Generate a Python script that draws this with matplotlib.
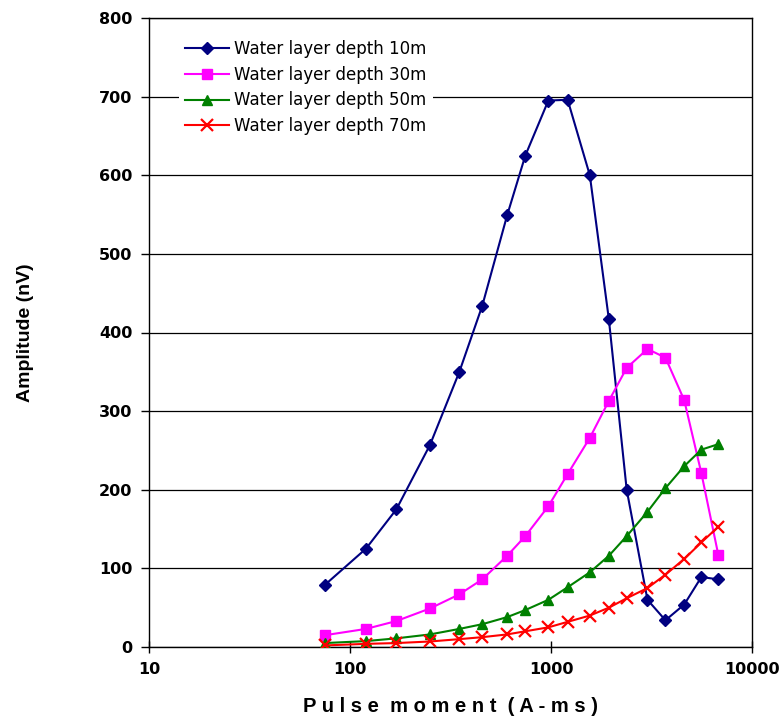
import numpy as np
import matplotlib
matplotlib.use("Agg")
from matplotlib import pyplot as plt

# pulse moments (A-ms) and NMR signal amplitudes (nV)
pulse_moment = [75, 120, 170, 250, 350, 455, 605, 745, 970, 1210,
                1560, 1940, 2380, 3020, 3710, 4600, 5600, 6800]

depth_10m = [79, 125, 175, 257, 350, 434, 549, 625, 695, 696,
             600, 417, 200, 60, 34, 54, 89, 86]
depth_30m = [15, 23, 33, 49, 67, 86, 116, 141, 179, 220,
             266, 313, 355, 379, 368, 314, 221, 117]
depth_50m = [5, 7.5, 11, 16, 23, 29, 38, 47, 60, 76,
             95, 116, 141, 172, 202, 230, 251, 258]
depth_70m = [2, 4, 5, 7, 10, 12.5, 16, 20, 25, 32,
             40, 50, 62, 75, 92, 112, 133, 153]

labels = ["Water layer depth 10m", "Water layer depth 30m",
          "Water layer depth 50m", "Water layer depth 70m"]
colors = ["#000080", "#FF00FF", "#008000", "#FF0000"]
markers = ["D", "s", "^", "x"]
msizes = [6, 7.5, 7.5, 8]

fig = plt.figure(figsize=(7.82, 7.2), dpi=100)
ax = fig.add_axes([149/782, 73/720, 603/782, 629/720])

series = [depth_10m, depth_30m, depth_50m, depth_70m]
for y, lab, c, m, ms in zip(series, labels, colors, markers, msizes):
    ax.plot(pulse_moment, y, color=c, marker=m, markersize=ms, lw=1.5,
            mec=c, mfc=c, mew=1.6 if m == "x" else 1, label=lab, zorder=3)

ax.set_xscale("log")
ax.set_xlim(10, 10000)
ax.set_ylim(0, 800)
ax.set_yticks(np.arange(0, 801, 100))
ax.set_xticks([10, 100, 1000, 10000])
ax.set_xticklabels(["10", "100", "1000", "10000"])
ax.minorticks_off()
ax.yaxis.grid(True, color="black", lw=0.9)
ax.set_axisbelow(True)

for s in ax.spines.values():
    s.set_linewidth(1.0)

ax.tick_params(axis="y", direction="out", length=6, width=1, pad=6)
ax.tick_params(axis="x", direction="inout", length=9, width=1, pad=6)
for t in ax.get_xticklabels() + ax.get_yticklabels():
    t.set_fontfamily("DejaVu Sans")
    t.set_fontweight("bold")
    t.set_fontsize(11.5)

ax.set_xlabel("P u l s e  m o m e n t  ( A - m s )", fontfamily="Liberation Sans",
              fontweight="bold", fontsize=14.5, labelpad=15)
ax.set_ylabel("Amplitude (nV)", fontfamily="Liberation Sans",
              fontweight="bold", fontsize=14, labelpad=47)

leg = ax.legend(loc="upper left", bbox_to_anchor=(0.049, 0.976), borderaxespad=0,
                prop={"family": "DejaVu Sans", "size": 12}, handlelength=2.6,
                handletextpad=0.3, labelspacing=0.47, borderpad=0.4,
                frameon=True, fancybox=False)
leg.get_frame().set_edgecolor("none")
leg.get_frame().set_facecolor("white")
leg.get_frame().set_alpha(1)

fig.savefig("out.png", dpi=100)
